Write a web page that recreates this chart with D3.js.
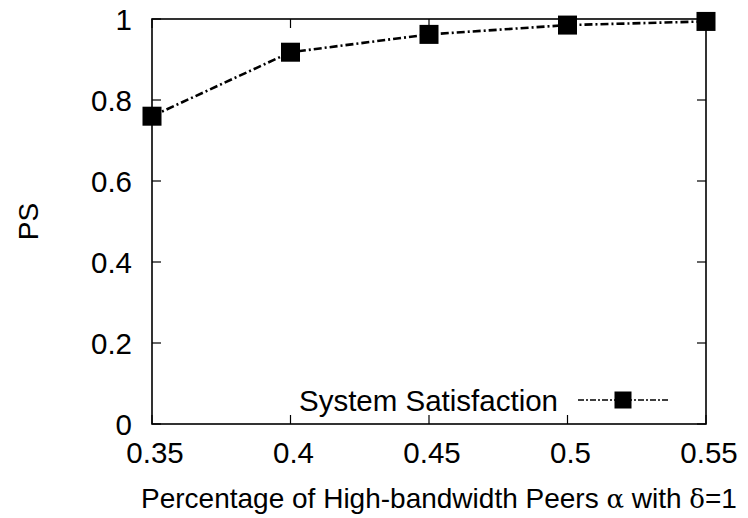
<!DOCTYPE html>
<html>
<head>
<meta charset="utf-8">
<script src="https://cdn.jsdelivr.net/npm/d3@7"></script>
<style>
  body { margin: 0; background: #fff; }
  svg text { font-family: "Liberation Sans", Arial, sans-serif; fill: #000; }
</style>
</head>
<body>
<div id="chart"></div>
<script>
// PS vs percentage of high-bandwidth peers
const alphas = [0.35, 0.4, 0.45, 0.5, 0.55];
const satisfaction = [0.76, 0.918, 0.962, 0.985, 0.994];
const xTicks = [0.35, 0.4, 0.45, 0.5, 0.55];
const yTicks = [0, 0.2, 0.4, 0.6, 0.8, 1];
const seriesName = "System Satisfaction";

(function () {
  const W = 748, H = 518;
  const margin = { top: 19, right: 42, bottom: 94, left: 152 };
  const width = W - margin.left - margin.right;
  const height = H - margin.top - margin.bottom;
  const fs = 29.5;

  const svg = d3.select("#chart").append("svg")
    .attr("width", W).attr("height", H);
  const g = svg.append("g").attr("transform", `translate(${margin.left},${margin.top})`);

  const x = d3.scaleLinear().domain([0.35, 0.55]).range([0, width]);
  const y = d3.scaleLinear().domain([0, 1]).range([height, 0]);

  // inward ticks on all four sides
  const tk = 9;
  g.append("g").selectAll("line").data(xTicks).join("line")
    .attr("x1", d => x(d)).attr("x2", d => x(d)).attr("y1", height).attr("y2", height - tk)
    .attr("stroke", "#000").attr("stroke-width", 1.2);
  g.append("g").selectAll("line").data(xTicks).join("line")
    .attr("x1", d => x(d)).attr("x2", d => x(d)).attr("y1", 0).attr("y2", tk)
    .attr("stroke", "#000").attr("stroke-width", 1.2);
  g.append("g").selectAll("line").data(yTicks).join("line")
    .attr("x1", 0).attr("x2", tk).attr("y1", d => y(d)).attr("y2", d => y(d))
    .attr("stroke", "#000").attr("stroke-width", 1.2);
  g.append("g").selectAll("line").data(yTicks).join("line")
    .attr("x1", width).attr("x2", width - tk).attr("y1", d => y(d)).attr("y2", d => y(d))
    .attr("stroke", "#000").attr("stroke-width", 1.2);

  g.append("rect").attr("width", width).attr("height", height)
    .attr("fill", "none").attr("stroke", "#000").attr("stroke-width", 1.6);

  // tick labels
  g.append("g").selectAll("text").data(xTicks).join("text")
    .attr("x", d => x(d) + 3).attr("y", height + 39)
    .attr("text-anchor", "middle").attr("font-size", fs)
    .text(d => d3.format("~g")(d));
  g.append("g").selectAll("text").data(yTicks).join("text")
    .attr("x", -20).attr("y", d => y(d)).attr("dy", "0.36em")
    .attr("text-anchor", "end").attr("font-size", fs)
    .text(d => d3.format("~g")(d));

  // axis titles
  const xt = svg.append("text")
    .attr("x", 439).attr("y", 508)
    .attr("text-anchor", "middle").attr("font-size", 28);
  xt.append("tspan").text("Percentage of High-bandwidth Peers ");
  xt.append("tspan").attr("font-family", "DejaVu Serif").attr("font-size", 26).text("α");
  xt.append("tspan").text(" with ");
  xt.append("tspan").attr("font-family", "DejaVu Serif").attr("font-size", 26).text("δ");
  xt.append("tspan").text("=1");

  svg.append("text")
    .attr("transform", `translate(38,${margin.top + height / 2}) rotate(-90)`)
    .attr("text-anchor", "middle").attr("font-size", 28)
    .text("PS");

  // series
  const pts = alphas.map((a, i) => [a, satisfaction[i]]);
  g.append("path").datum(pts)
    .attr("d", d3.line().x(d => x(d[0])).y(d => y(d[1])))
    .attr("fill", "none").attr("stroke", "#000").attr("stroke-width", 2.6)
    .attr("stroke-dasharray", "8,3,2,3");

  const ms = 19;
  g.append("g").selectAll("rect").data(pts).join("rect")
    .attr("x", d => x(d[0]) - ms / 2).attr("y", d => y(d[1]) - ms / 2)
    .attr("width", ms).attr("height", ms).attr("fill", "#000");

  // legend
  const ly = 400 - margin.top;
  const lx1 = 578 - margin.left, lx2 = 668 - margin.left;
  g.append("text")
    .attr("x", lx1 - 20).attr("y", ly).attr("dy", "0.36em")
    .attr("text-anchor", "end").attr("font-size", 29.5)
    .text(seriesName);
  g.append("line")
    .attr("x1", lx1).attr("x2", lx2).attr("y1", ly).attr("y2", ly)
    .attr("stroke", "#000").attr("stroke-width", 1.3)
    .attr("stroke-dasharray", "6,2,2,2");
  const lm = 17;
  g.append("rect")
    .attr("x", (lx1 + lx2) / 2 - lm / 2).attr("y", ly - lm / 2)
    .attr("width", lm).attr("height", lm).attr("fill", "#000");
})();
</script>
</body>
</html>
